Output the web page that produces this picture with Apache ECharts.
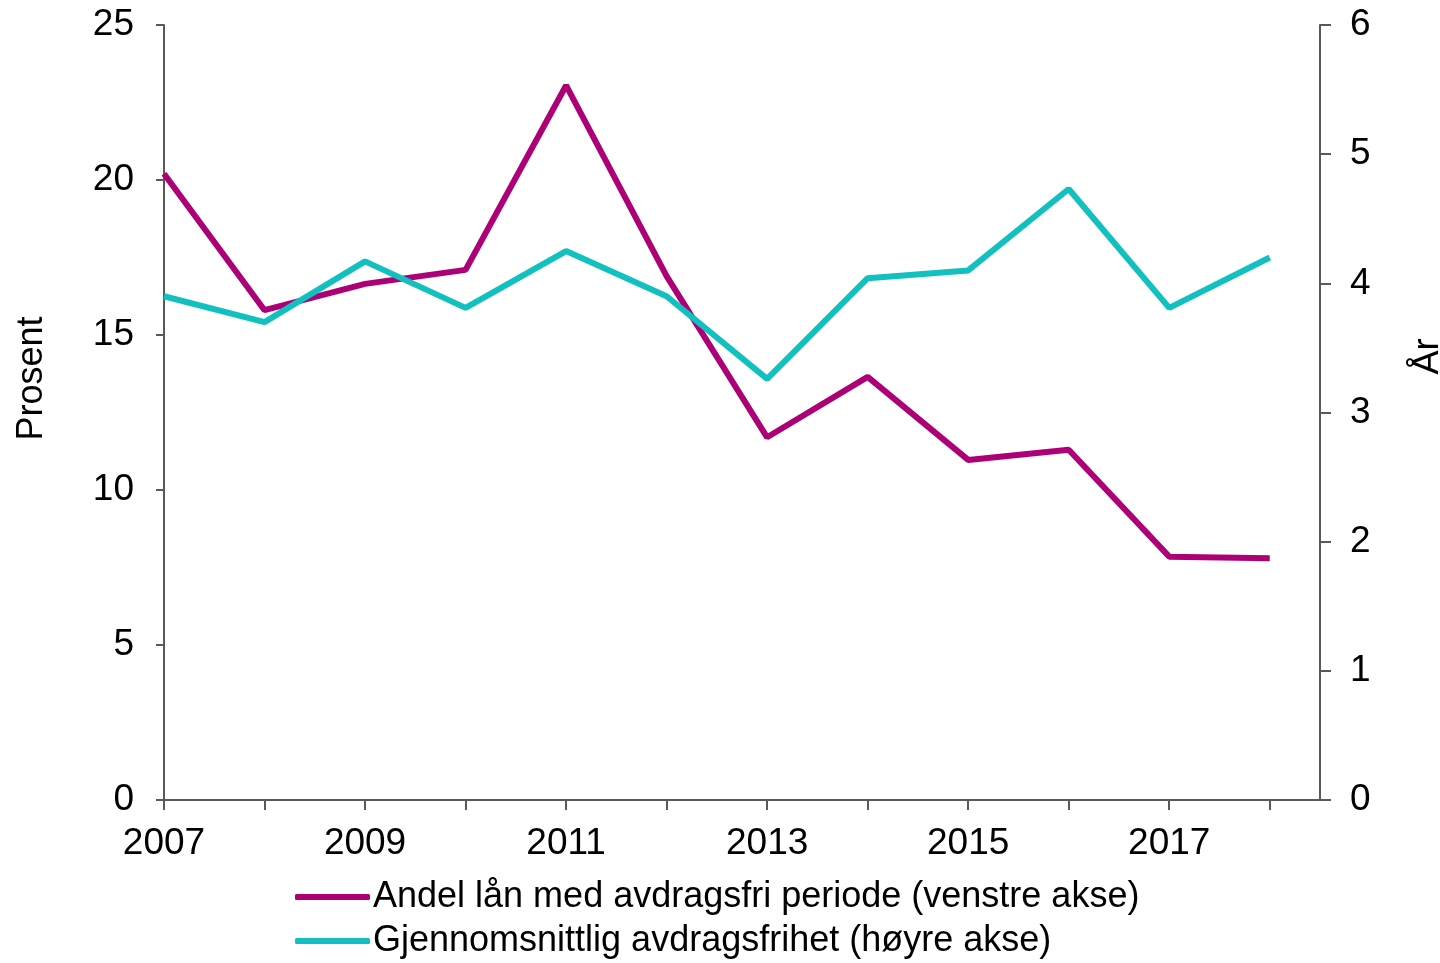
<!DOCTYPE html>
<html>
<head>
<meta charset="utf-8">
<script src="https://cdn.jsdelivr.net/npm/echarts@6/dist/echarts.min.js"></script>
<style>
  html, body { margin: 0; padding: 0; background: #fff; }
  #chart { width: 1440px; height: 963px; }
</style>
</head>
<body>
<div id="chart"></div>
<script>
// years on the x axis
var years = [2007, 2008, 2009, 2010, 2011, 2012, 2013, 2014, 2015, 2016, 2017, 2018]
var yearLabels = [2007, 2009, 2011, 2013, 2015, 2017]

// left axis, percent
var andelLan = [20.2, 15.8, 16.65, 17.1, 23.05, 16.9, 11.7, 13.65, 10.97, 11.3, 7.85, 7.8]
// right axis, years
var avdragsfrihet = [3.9, 3.7, 4.17, 3.81, 4.25, 3.9, 3.26, 4.04, 4.1, 4.73, 3.81, 4.2]

var names = [
  'Andel lån med avdragsfri periode (venstre akse)',
  'Gjennomsnittlig avdragsfrihet (høyre akse)'
]

var font = 'Liberation Sans, Arial, sans-serif'
var axisColor = '#595959'

var myChart = echarts.init(document.getElementById('chart'))

function pairs(vals) {
  return years.map(function (y, i) { return [y, vals[i]] })
}

var option = {
  animation: false,
  backgroundColor: '#fff',
  textStyle: { fontFamily: font, color: '#000' },
  grid: { left: 164, right: 120, top: 25, bottom: 163, outerBoundsMode: 'none' },
  legend: {
    orient: 'vertical',
    left: 295,
    top: 877,
    height: 120,
    padding: 0,
    itemWidth: 75,
    itemHeight: 6,
    itemGap: 4,
    icon: 'roundRect',
    textStyle: { fontSize: 36, lineHeight: 40, fontFamily: font, color: '#000', padding: [0, 0, 0, -2] },
    data: names
  },
  xAxis: {
    type: 'value',
    min: 2007,
    max: 2018.5,
    interval: 1,
    splitLine: { show: false },
    axisLine: { lineStyle: { color: axisColor, width: 2 } },
    axisTick: { length: 10, lineStyle: { color: axisColor, width: 2 }, customValues: years },
    axisLabel: {
      customValues: yearLabels,
      fontSize: 37, color: '#000', fontFamily: font, margin: 25,
      formatter: function (v) { return String(v) }
    }
  },
  yAxis: [
    {
      type: 'value',
      min: 0, max: 25, interval: 5,
      name: 'Prosent',
      nameLocation: 'middle',
      nameRotate: 90,
      nameGap: 114,
      nameTextStyle: { fontSize: 36, color: '#000', fontFamily: font, padding: [0, 0, 0, 68] },
      splitLine: { show: false },
      axisLine: { show: true, lineStyle: { color: axisColor, width: 2 } },
      axisTick: { show: true, length: 8, lineStyle: { color: axisColor, width: 2 } },
      axisLabel: { fontSize: 37, color: '#000', fontFamily: font, margin: 30 }
    },
    {
      type: 'value',
      min: 0, max: 6, interval: 1,
      position: 'right',
      name: 'År',
      nameLocation: 'middle',
      nameRotate: 90,
      nameGap: 90,
      nameTextStyle: { fontSize: 36, color: '#000', fontFamily: font, padding: [0, 0, 0, 112] },
      splitLine: { show: false },
      axisLine: { show: true, lineStyle: { color: axisColor, width: 2 } },
      axisTick: { show: true, length: 11, lineStyle: { color: axisColor, width: 2 } },
      axisLabel: { fontSize: 37, color: '#000', fontFamily: font, margin: 30 }
    }
  ],
  series: [
    {
      name: names[0],
      type: 'line',
      yAxisIndex: 0,
      data: pairs(andelLan),
      symbol: 'none',
      lineStyle: { color: '#AD0077', width: 6 },
      itemStyle: { color: '#AD0077' }
    },
    {
      name: names[1],
      type: 'line',
      yAxisIndex: 1,
      data: pairs(avdragsfrihet),
      symbol: 'none',
      lineStyle: { color: '#13C0C0', width: 6 },
      itemStyle: { color: '#13C0C0' }
    }
  ]
}

myChart.setOption(option)
</script>
</body>
</html>
